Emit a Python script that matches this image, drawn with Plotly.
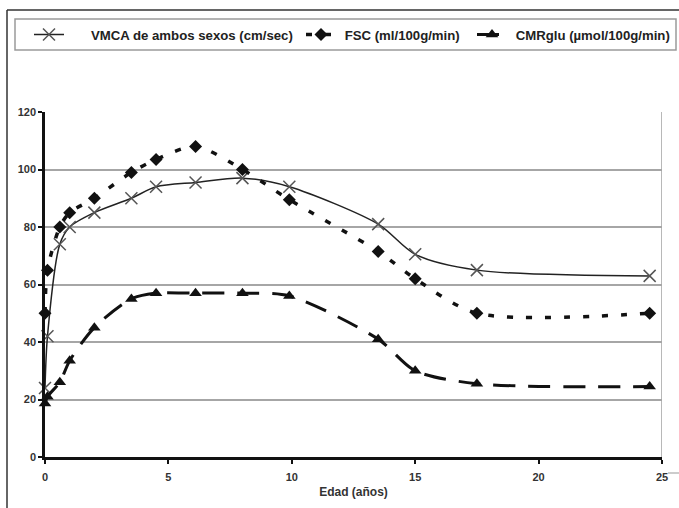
import plotly.graph_objects as go

# ---- data ----
edad = [0, 0.1, 0.6, 1, 2, 3.5, 4.5, 6.1, 8, 9.9, 13.5, 15, 17.5, 24.5]
vmca = [24, 42, 74, 80, 85, 90, 94, 95.5, 97, 94, 81, 70.5, 65, 63]
fsc = [50, 65, 80, 85, 90, 99, 103.5, 108, 100, 89.5, 71.5, 62, 50, 50]
cmrglu = [18.6, 21, 26, 33.5, 45, 55, 57, 57, 57, 56, 41, 30, 25.5, 24.5]

name_vmca = "\u00a0" * 6 + "VMCA de ambos sexos (cm/sec)"
name_fsc = "\u00a0" + "FSC (ml/100g/min)"
name_cmr = "\u00a0" + "CMRglu (µmol/100g/min)"

x_ticks = [0, 5, 10, 15, 20, 25]
y_ticks = [0, 20, 40, 60, 80, 100, 120]

W, H = 679, 508
L, R, T, B = 45, 17, 112, 51
PW, PH = W - L - R, H - T - B


def px(xp):
    return (xp - L) / PW


def py(yp):
    return (H - B - yp) / PH


FONT = "Liberation Sans, Arial, sans-serif"

fig = go.Figure()
fig.add_trace(go.Scatter(
    x=edad, y=vmca, name=name_vmca, mode="lines+markers",
    line=dict(color="#222222", width=1.5, shape="spline", smoothing=0.8),
    marker=dict(symbol="x-thin", size=12, line=dict(color="#555555", width=1.5)),
    cliponaxis=False, legend="legend"))
fig.add_trace(go.Scatter(
    x=edad, y=fsc, name=name_fsc, mode="lines+markers",
    line=dict(color="#111111", width=3.5, dash="6px,13px", shape="spline", smoothing=0.8),
    marker=dict(symbol="diamond", size=10, color="#111111"),
    cliponaxis=False, legend="legend2"))
fig.add_trace(go.Scatter(
    x=edad, y=cmrglu, name=name_cmr, mode="lines+markers",
    line=dict(color="#111111", width=3, dash="22px,13px", shape="spline", smoothing=0.8),
    marker=dict(symbol="triangle-up", size=11, color="#111111"),
    cliponaxis=False, legend="legend3"))

leg_common = dict(orientation="h", bgcolor="rgba(0,0,0,0)", borderwidth=0,
                  yanchor="middle", xanchor="left",
                  font=dict(family=FONT, size=13.2, color="#222222", weight="bold"))

shapes = [
    # legend box
    dict(type="rect", xref="paper", yref="paper", x0=px(15), x1=px(676), y0=py(50), y1=py(19),
         line=dict(color="#9a9a9a", width=1.5), fillcolor="rgba(0,0,0,0)"),
    # outer frame (left and top)
    dict(type="line", xref="paper", yref="paper", x0=px(7), x1=px(7), y0=py(10), y1=py(508),
         line=dict(color="#333333", width=1.5)),
    dict(type="line", xref="paper", yref="paper", x0=px(7), x1=px(679), y0=py(10), y1=py(10),
         line=dict(color="#333333", width=1.5)),
    # small tick stub next to 25
    dict(type="line", xref="paper", yref="paper", x0=px(668), x1=px(679), y0=py(473), y1=py(473),
         line=dict(color="#999999", width=1)),
    # right border of the plot area
    dict(type="line", xref="x", yref="y", x0=25, x1=25, y0=0, y1=120,
         line=dict(color="#a0a0a0", width=1.5), layer="below"),
]

fig.update_layout(
    width=W, height=H,
    margin=dict(l=L, r=R, t=T, b=B, autoexpand=False),
    paper_bgcolor="white", plot_bgcolor="white",
    font=dict(family=FONT, color="#333333"),
    legend=dict(x=px(29), y=py(35), **leg_common),
    legend2=dict(x=px(301), y=py(35), **leg_common),
    legend3=dict(x=px(472), y=py(35), **leg_common),
    shapes=shapes,
    xaxis=dict(range=[0, 25], tickvals=x_ticks, showgrid=False, zeroline=False,
               showline=True, linecolor="#111111", linewidth=2.5,
               ticks="outside", ticklen=4, tickwidth=2, tickcolor="#111111",
               ticklabelstandoff=4, automargin=False,
               tickfont=dict(family=FONT, size=11, color="#333333", weight="bold"),
               title=dict(text="Edad (años)", standoff=6,
                          font=dict(family=FONT, size=12, color="#333333", weight="bold"))),
    yaxis=dict(range=[0, 120], tickvals=y_ticks, showgrid=True, gridcolor="#a6a6a6", gridwidth=1.5,
               zeroline=False, showline=True, linecolor="#111111", linewidth=2.5,
               ticks="outside", ticklen=4, tickwidth=2, tickcolor="#111111",
               ticklabelstandoff=0, automargin=False,
               tickfont=dict(family=FONT, size=11, color="#333333", weight="bold")),
    showlegend=True,
)

fig.write_html("out.html", config={"displayModeBar": False},
               post_script="document.body.style.margin='0';document.body.style.overflow='hidden';")
